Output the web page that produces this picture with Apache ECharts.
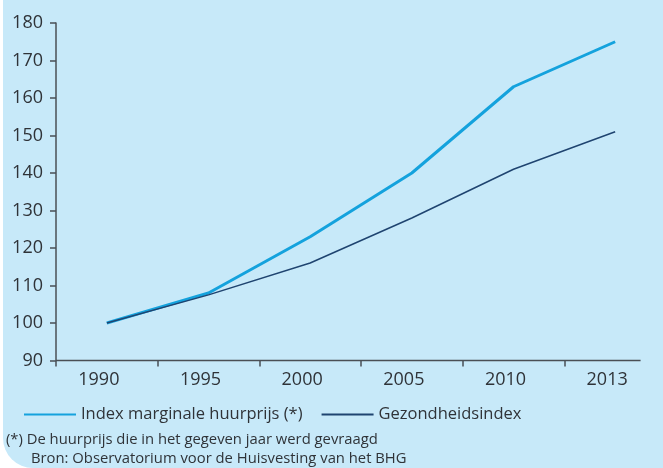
<!DOCTYPE html>
<html>
<head>
<meta charset="utf-8">
<script src="https://cdn.jsdelivr.net/npm/echarts@6/dist/echarts.min.js"></script>
<style>
    html, body { margin: 0; padding: 0; background: #fff; }
    #bg { position: absolute; left: 3px; top: 0; width: 660px; height: 468px; background: #c7e9f9; border-bottom-left-radius: 30px; }
    #wrap { position: absolute; left: 0; top: 0; width: 663px; height: 468px; overflow: hidden; }
    #chart { position: absolute; left: 0; top: 0; width: 700px; height: 468px; }
</style>
</head>
<body>
<div id="bg"></div>
<div id="wrap"><div id="chart"></div></div>
<script>
// categorieen en reeksen
var years = ['1990', '1995', '2000', '2005', '2010', '2013'];
var huurprijs = [100, 108, 123, 140, 163, 175];
var gezondheid = [100, 107.5, 116, 128, 141, 151];
var yTicks = [90, 180, 10]; // min, max, interval

var seriesNames = ['Index marginale huurprijs (*)', 'Gezondheidsindex'];
var noteLines = [
    '(*) De huurprijs die in het gegeven jaar werd gevraagd',
    'Bron: Observatorium voor de Huisvesting van het BHG'
];

var axisColor = '#4a4f55';
var textColor = '#2f3338';
var font = '"Open Sans", "Noto Sans", sans-serif';

var myChart = echarts.init(document.getElementById('chart'));

var option = {
    backgroundColor: 'transparent',
    animation: false,
    textStyle: { fontFamily: font },
    grid: {
        left: 56,
        top: 23,
        width: 610,
        bottom: 107.5,
        containLabel: false
    },
    legend: {
        left: 18,
        top: 401,
        itemWidth: 52,
        itemHeight: 14,
        itemGap: 18,
        itemStyle: { opacity: 0 },
        textStyle: { fontSize: 16.5, color: textColor, fontFamily: font },
        data: seriesNames
    },
    xAxis: [{
        type: 'category',
        data: years,
        boundaryGap: true,
        axisLine: { show: false },
        axisTick: {
            show: true,
            length: 6,
            lineStyle: { color: axisColor, width: 1.5 }
        },
        axisLabel: {
            margin: 10,
            fontSize: 18,
            color: textColor,
            padding: [0, 16, 0, 0],
            fontFamily: font
        }
    }],
    yAxis: [{
        type: 'value',
        min: yTicks[0],
        max: yTicks[1],
        interval: yTicks[2],
        axisLine: { show: true, lineStyle: { color: axisColor, width: 1.5 } },
        axisTick: { show: true, length: 6, lineStyle: { color: axisColor, width: 1.5 } },
        splitLine: { show: false },
        axisLabel: {
            margin: 13,
            fontSize: 18,
            color: textColor,
            fontFamily: font
        }
    }],
    series: [{
        name: seriesNames[0],
        type: 'line',
        data: huurprijs,
        symbol: 'none',
        lineStyle: { color: '#14a2dd', width: 3 },
        itemStyle: { color: '#14a2dd' },
        z: 2
    }, {
        name: seriesNames[1],
        type: 'line',
        data: gezondheid,
        symbol: 'none',
        lineStyle: { color: '#1f4470', width: 1.5 },
        itemStyle: { color: '#1f4470' },
        z: 3
    }]
};
myChart.setOption(option);

// x-as lijn: loopt tot iets voorbij het laatste jaar (niet tot de rand)
var x0 = myChart.convertToPixel({ xAxisIndex: 0 }, years[0]);
var x1 = myChart.convertToPixel({ xAxisIndex: 0 }, years[1]);
var xLast = myChart.convertToPixel({ xAxisIndex: 0 }, years[years.length - 1]);
var band = x1 - x0;
var yBase = myChart.convertToPixel({ yAxisIndex: 0 }, yTicks[0]);

myChart.setOption({
    graphic: [{
        type: 'line',
        shape: { x1: x0 - band / 2, y1: yBase, x2: xLast + band / 4, y2: yBase },
        style: { stroke: axisColor, lineWidth: 1.5 },
        z: 10
    }, {
        type: 'text',
        left: 6,
        top: 432,
        style: { text: noteLines[0], fill: textColor, font: '14.8px ' + font }
    }, {
        type: 'text',
        left: 31,
        top: 451,
        style: { text: noteLines[1], fill: textColor, font: '14.8px ' + font }
    }]
});
</script>
</body>
</html>
